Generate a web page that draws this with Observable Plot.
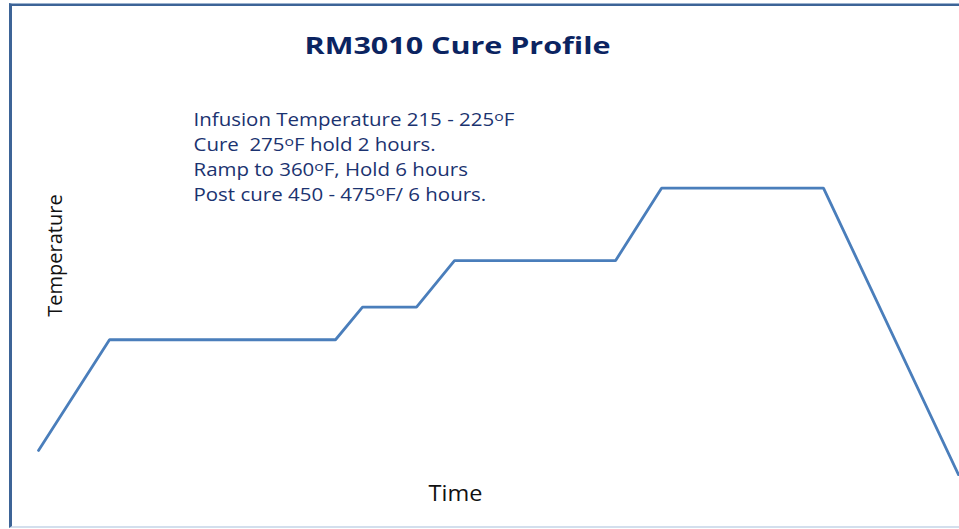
<!DOCTYPE html>
<html>
<head>
<meta charset="utf-8">
<script src="https://cdn.jsdelivr.net/npm/d3@7"></script>
<script src="https://cdn.jsdelivr.net/npm/@observablehq/plot@0.6"></script>
<style>
  html, body { margin: 0; padding: 0; background: #fff; }
  #wrap { position: relative; width: 959px; height: 529px; overflow: hidden; }
  #chart { position: absolute; left: 0; top: 0; }
  #frame {
    position: absolute; left: 9px; top: 3px; width: 1000px; height: 522px;
    border-top: 1px solid #9bb2cf;
    border-left: 3px solid #3d6497;
    border-bottom: 2px solid #d3dfed;
    box-shadow: inset 0 2px 0 #3d6497;
    pointer-events: none;
  }
</style>
</head>
<body>
<div id="wrap"><div id="chart"></div><div id="frame"></div></div>
<script>
// Time (arbitrary units) and temperature (°F, schematic) of the cure profile
const times = [0, 7.1, 29.7, 32.4, 37.8, 41.6, 57.7, 62.3, 78.5, 92];
const temps = [156, 275, 275, 310, 310, 360, 360, 438, 438, 130];

const titleText = "RM3010 Cure Profile";
const noteLines = [
  "Infusion Temperature 215 - 225ᵒF",
  "Cure  275ᵒF hold 2 hours.",
  "Ramp to 360ᵒF, Hold 6 hours",
  "Post cure 450 - 475ᵒF/ 6 hours."
];
const xLabel = "Time";
const yLabel = "Temperature";

const data = times.map((t, i) => ({time: t, temp: temps[i]}));
const FONT = "'Open Sans', sans-serif";

const chart = Plot.plot({
  width: 959,
  height: 529,
  marginLeft: 38,
  marginRight: 1,
  marginTop: 130,
  marginBottom: 27,
  style: {background: "transparent", fontFamily: FONT},
  x: {domain: [0, 92], axis: null},
  y: {domain: [100, 500], axis: null},
  marks: [
    Plot.line(data, {x: "time", y: "temp", stroke: "#4a7ebb", strokeWidth: 2.8, strokeLinejoin: "miter"}),
    Plot.text([titleText], {
      frameAnchor: "top", dx: -41, dy: -84, lineAnchor: "middle", textAnchor: "middle",
      text: d => d, fontSize: 24, fontWeight: "bold", fill: "#0b2461", fontFamily: FONT
    }),
    Plot.text([noteLines.join("\n")], {
      frameAnchor: "top-left", dx: 155, dy: -22, lineAnchor: "top",
      textAnchor: "start", text: d => d, fontSize: 17.5, lineHeight: 1.43,
      fill: "#1b3370", fontFamily: FONT
    }),
    Plot.text([yLabel], {
      frameAnchor: "left", dx: 17, dy: -61, rotate: -90, lineAnchor: "middle", textAnchor: "middle",
      text: d => d, fontSize: 20, fill: "#111", fontFamily: FONT
    }),
    Plot.text([xLabel], {
      frameAnchor: "bottom", dx: -43, dy: -8, lineAnchor: "middle", textAnchor: "middle",
      text: d => d, fontSize: 21, fill: "#111", fontFamily: FONT
    })
  ]
});
document.getElementById("chart").appendChild(chart);

// Stretch text to match the reference proportions, and raise the degree "o".
const SVGNS = "http://www.w3.org/2000/svg";
function stretch(el, sx, sy) {
  const t = el.getAttribute("transform") || "";
  const m = t.match(/translate\(\s*([-\d.e]+)[ ,]+([-\d.e]+)\s*\)/);
  let ax = m ? +m[1] : +(el.getAttribute("x") || 0);
  let ay = m ? +m[2] : +(el.getAttribute("y") || 0);
  el.setAttribute("transform", `translate(${ax},${ay}) scale(${sx},${sy}) translate(${-ax},${-ay}) ${t}`);
}
function superDegree(node) {
  const txt = node.textContent;
  if (!txt.includes("ᵒ")) return;
  while (node.firstChild) node.removeChild(node.firstChild);
  const parts = txt.split("ᵒ");
  parts.forEach((p, i) => {
    if (i > 0) {
      const o = document.createElementNS(SVGNS, "tspan");
      o.setAttribute("dy", "-5.5");
      o.setAttribute("font-size", "13.5");
      o.textContent = "o";
      node.appendChild(o);
      const rest = document.createElementNS(SVGNS, "tspan");
      rest.setAttribute("dy", "5.5");
      rest.textContent = p;
      node.appendChild(rest);
    } else {
      node.appendChild(document.createTextNode(p));
    }
  });
}
d3.select(chart).selectAll("text").each(function() {
  const s = this.textContent;
  if (s === titleText) stretch(this, 1.27, 1);
  else if (s === xLabel) stretch(this, 1.12, 1);
  else if (s.includes("Infusion")) {
    const tspans = this.querySelectorAll("tspan");
    if (tspans.length) tspans.forEach(superDegree); else superDegree(this);
    stretch(this, 1.17, 1);
  }
});
</script>
</body>
</html>
